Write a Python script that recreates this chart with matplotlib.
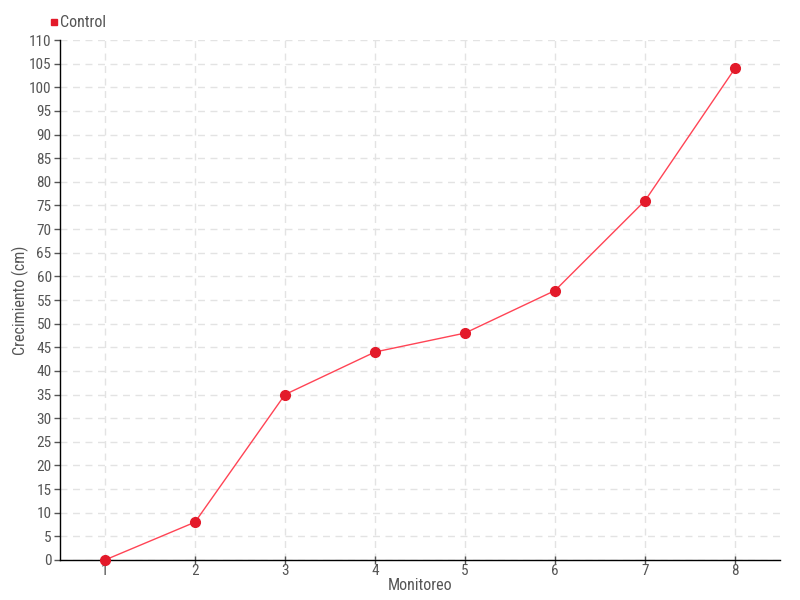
import matplotlib
matplotlib.use("Agg")
import matplotlib.pyplot as plt
from matplotlib.lines import Line2D

monitoreo = [1, 2, 3, 4, 5, 6, 7, 8]
control = [0, 8, 35, 44, 48, 57, 76, 104]
y_ticks = list(range(0, 111, 5))
series_name = "Control"

plt.rcParams['font.family'] = ['Roboto Condensed', 'Liberation Sans Narrow', 'Roboto', 'DejaVu Sans']
txt = '#555555'

fig = plt.figure(figsize=(8, 6), dpi=100)
ax = fig.add_axes([0.075, 0.0667, 0.9, 0.8666])
ax.plot(monitoreo, control, color='#ff4455', lw=1, zorder=3)
ax.plot(monitoreo, control, 'o', color='#e31a2a', ms=7, zorder=4, clip_on=False)
ax.set_xlim(0.5, 8.5)
ax.set_ylim(0, 110)
ax.set_xticks(monitoreo)
ax.set_yticks(y_ticks)
ax.tick_params(axis='both', labelsize=11, colors=txt, length=4, width=1)
ax.tick_params(axis='x', direction='inout', length=6, pad=0)
ax.tick_params(axis='y', pad=2)
for t in ax.get_xticklines() + ax.get_yticklines():
    t.set_color('black')
ax.grid(True, color='#e3e3e3', ls=(0, (5, 4)), lw=1)
ax.set_axisbelow(True)
for s in ['top', 'right']:
    ax.spines[s].set_visible(False)
for s in ['left', 'bottom']:
    ax.spines[s].set_color('black')
    ax.spines[s].set_linewidth(1)
ax.set_xlabel('Monitoreo', fontsize=11.5, color=txt, va='center')
ax.xaxis.set_label_coords(0.5, (560 - 586) / 520)
ax.set_ylabel('Crecimiento (cm)', fontsize=11.5, color=txt, va='center')
ax.yaxis.set_label_coords((20 - 60) / 720, 0.5)

h = [Line2D([], [], marker='s', ls='none', color='#e31a2a', ms=4)]
fig.legend(h, [series_name], loc='upper left', bbox_to_anchor=(0.047, 0.993), frameon=False,
           fontsize=11.5, labelcolor=txt, handletextpad=0.1, handlelength=0.6, borderpad=0.2)

fig.savefig('out.png', dpi=100)
